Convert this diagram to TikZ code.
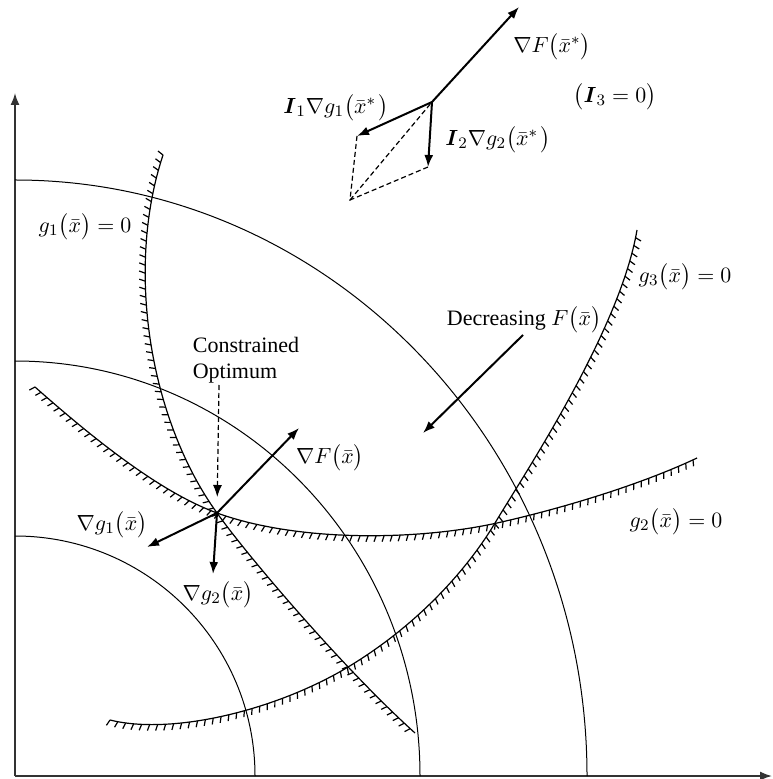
\documentclass[tikz,border=0pt]{standalone}
\usepackage{amsmath}
\usepackage{fontspec}
\setmainfont{Liberation Serif}
\usetikzlibrary{decorations.pathreplacing, arrows.meta}

\begin{document}
\begin{tikzpicture}[x=0.5pt, y=-0.5pt,
    >={Latex[length=6pt, width=4.5pt]},
    axis/.style={->, line width=0.8pt, black!80},
    contour/.style={line width=0.5pt},
    hatched/.style={line width=0.6pt, postaction={draw, decorate, decoration={border, segment length=4pt, amplitude=-3.2pt, angle=#1}}},
    hatched/.default=70,
    vec/.style={->, line width=1pt},
    dashline/.style={line width=0.6pt, dash pattern=on 2.5pt off 1.5pt},
    lbl/.style={inner sep=0pt, font=\fontsize{11}{13}\selectfont}
]
\useasboundingbox (0,0) rectangle (772,779);
% axes
\coordinate (origin) at (15,776);
\coordinate (ytip) at (15,93);
\coordinate (xtip) at (772,776);
\draw[axis] (origin) -- (ytip);
\draw[axis] (origin) -- (xtip);
% contours of F
\draw[contour] (15,180) arc[start angle=-90, end angle=0, x radius=572, y radius=596];
\draw[contour] (15,361) arc[start angle=-90, end angle=0, x radius=405, y radius=415];
\draw[contour] (15,536) arc[start angle=-90, end angle=0, x radius=240, y radius=240];
% constraints
\draw[hatched] (163,155) .. controls (125,270) and (150,420) .. (217,513)
    .. controls (250,559) and (345,670) .. (415,733);
\draw[hatched] (35,387) .. controls (95,440) and (160,492) .. (217,513)
    .. controls (300,543) and (420,540) .. (497,523)
    .. controls (560,509) and (640,485) .. (697,458);
\draw[hatched] (110,720) .. controls (170,735) and (270,712) .. (343,670)
    .. controls (420,625) and (470,565) .. (495,523)
    .. controls (525,473) and (620,330) .. (637,230);
% constrained optimum
\coordinate (opt) at (217,513);
\coordinate (gradF) at (299,428);
\coordinate (gradg1) at (147,547);
\coordinate (gradg2) at (213,574);
\draw[vec] (opt) -- (gradF);
\draw[vec] (opt) -- (gradg1);
\draw[vec] (opt) -- (gradg2);
\node[lbl, align=left] (constr) at (246,360) {Constrained\\Optimum};
\coordinate (dashtop) at (219,385);
\draw[->, dashline, shorten >=8pt] (dashtop) -- (opt);
% decreasing F
\coordinate (decA) at (523,335);
\coordinate (decB) at (423,433);
\draw[vec] (decA) -- (decB);
% vector sum at x*
\coordinate (xs) at (432,102);
\coordinate (gradFs) at (519,7);
\coordinate (lam1) at (357,136);
\coordinate (lam2) at (428,167);
\coordinate (vsum) at (350,200);
\draw[vec] (xs) -- (gradFs);
\draw[vec] (xs) -- (lam1);
\draw[vec] (xs) -- (lam2);
\draw[dashline] (lam1) -- (vsum) -- (lam2);
\draw[dashline] (vsum) -- (xs);
% labels
\node[lbl] (l_gFs) at (552,47) {$\nabla F\bigl(\bar{x}^{*}\bigr)$};
\node[lbl] (l_l3) at (615,97) {$\bigl(\boldsymbol{I}_3=0\bigr)$};
\node[lbl] (l_l1) at (336,108) {$\boldsymbol{I}_1\nabla g_1\bigl(\bar{x}^{*}\mkern2mu\bigr)$};
\node[lbl] (l_l2) at (498,140) {$\boldsymbol{I}_2\nabla g_2\bigl(\bar{x}^{*}\mkern2mu\bigr)$};
\node[lbl] (l_g1) at (85,227) {$g_1\bigl(\bar{x}\bigr)=0$};
\node[lbl] (l_g3) at (685,277) {$g_3\bigl(\bar{x}\bigr)=0$};
\node[lbl] (l_dec) at (524,320) {Decreasing $F\bigl(\bar{x}\bigr)$};
\node[lbl] (l_gF) at (330,458) {$\nabla F\bigl(\bar{x}\bigr)$};
\node[lbl] (l_g1v) at (112,525) {$\nabla g_1\bigl(\bar{x}\bigr)$};
\node[lbl] (l_g2v) at (218,595) {$\nabla g_2\bigl(\bar{x}\bigr)$};
\node[lbl] (l_g2) at (676,522) {$g_2\bigl(\bar{x}\bigr)=0$};
\end{tikzpicture}
\end{document}
